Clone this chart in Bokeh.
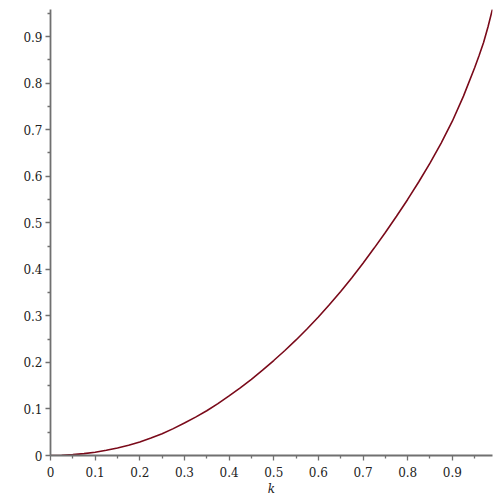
from bokeh.plotting import figure
from bokeh.models import FixedTicker, CustomJSTickFormatter, Range1d
from bokeh.embed import file_html
from bokeh.resources import INLINE

# Values
k_vals = [0, 0.025, 0.05, 0.075, 0.1, 0.125, 0.15, 0.175, 0.2, 0.225, 0.25, 0.275,
          0.3, 0.325, 0.35, 0.375, 0.4, 0.425, 0.45, 0.475, 0.5, 0.525,
          0.55, 0.575, 0.6, 0.625, 0.65, 0.675, 0.7, 0.725, 0.75, 0.775,
          0.8, 0.825, 0.85, 0.875, 0.9, 0.925, 0.95, 0.96, 0.97, 0.98, 0.99]
f_vals = [0, 0.0004, 0.0018, 0.0040, 0.0071, 0.0112, 0.0162, 0.0222, 0.0292, 0.0375, 0.0469, 0.0577,
          0.0698, 0.0824, 0.0962, 0.1114, 0.128, 0.1452, 0.1635, 0.1832, 0.204, 0.2255,
          0.2482, 0.2722, 0.2975, 0.3242, 0.3523, 0.3819, 0.4131, 0.4455, 0.479, 0.514,
          0.550, 0.588, 0.628, 0.671, 0.718, 0.772, 0.833, 0.859, 0.887, 0.921, 0.959]

major_ticks = [0, 0.1, 0.2, 0.3, 0.4, 0.5, 0.6, 0.7, 0.8, 0.9]
minor_ticks = [0.05, 0.15, 0.25, 0.35, 0.45, 0.55, 0.65, 0.75, 0.85, 0.95]
x_label = "k"

FONT = "DejaVu Serif"

p = figure(frame_width=442, frame_height=446,
           min_border_left=50, min_border_top=9, min_border_right=2, min_border_bottom=36,
           x_range=Range1d(0, 0.99), y_range=Range1d(0, 0.958),
           output_backend="svg", toolbar_location=None)
p.outline_line_color = None
p.grid.visible = False
p.background_fill_color = "white"
p.border_fill_color = "white"

p.line(k_vals, f_vals, line_color="#7A0A1A", line_width=1.6)

fmt = CustomJSTickFormatter(code="return tick === 0 ? '0' : tick.toFixed(1);")
for ax in (p.xaxis[0], p.yaxis[0]):
    ax.ticker = FixedTicker(ticks=major_ticks, minor_ticks=minor_ticks)
    ax.formatter = fmt
    ax.axis_line_color = "#707070"
    ax.axis_line_width = 1.8
    ax.major_tick_line_color = "#707070"
    ax.minor_tick_line_color = "#707070"
    ax.major_tick_line_width = 1.3
    ax.minor_tick_line_width = 1.3
    ax.major_tick_out = 5
    ax.major_tick_in = 0
    ax.minor_tick_out = 3
    ax.minor_tick_in = 0
    ax.major_label_text_font = FONT
    ax.major_label_text_font_size = "12px"
    ax.major_label_text_color = "#222222"

p.xaxis[0].major_label_standoff = 6
p.yaxis[0].major_label_standoff = 3
p.xaxis[0].axis_label = x_label
p.xaxis[0].axis_label_text_font = FONT
p.xaxis[0].axis_label_text_font_style = "italic"
p.xaxis[0].axis_label_text_font_size = "12px"
p.xaxis[0].axis_label_text_color = "#222222"
p.xaxis[0].axis_label_standoff = 2

open("out.html", "w").write(file_html(p, INLINE))
